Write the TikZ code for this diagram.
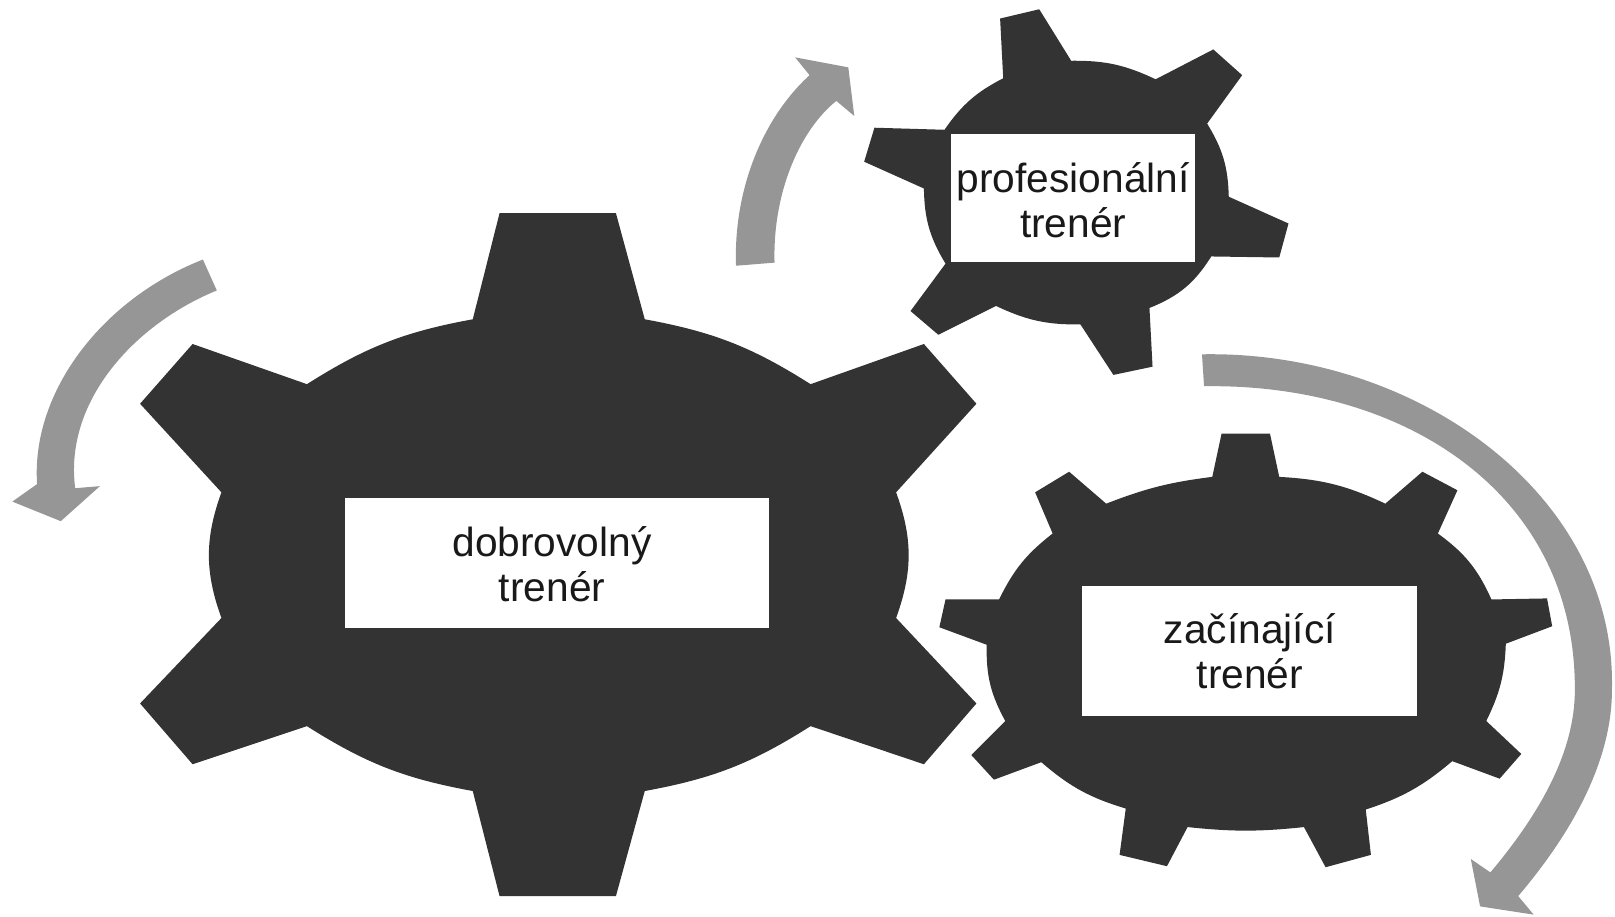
\documentclass[tikz,border=0pt]{standalone}
\usepackage{fontspec}
\setmainfont{Liberation Sans}
\definecolor{geardark}{HTML}{333333}
\definecolor{arrowgrey}{HTML}{969696}
\tikzset{
  gearbody/.style={fill=geardark, draw=none},
  turnarrow/.style={fill=arrowgrey, draw=none},
  whitebox/.style={draw=geardark, line width=1pt, fill=white, inner sep=0pt, rectangle},
  lbl/.style={align=center, inner sep=0pt, text=black!90, font=\fontsize{39.5}{44}\selectfont}
}
\begin{document}
\begin{tikzpicture}[x=1pt,y=-1pt]
\useasboundingbox (0,0) rectangle (1568,890);

% --- large gear
\fill[gearbody] (485,207) -- (598,207) -- (626,310) to[bend left=11] (787,373)
  -- (897,334) -- (948,392) -- (870,478) to[bend left=20] (870,600)
  -- (948,683) -- (897,742) -- (787,705) to[bend left=11] (626,768)
  -- (598,870) -- (485,870) -- (459,768) to[bend left=11] (298,705)
  -- (187,742) -- (136,683) -- (215,600) to[bend left=20] (215,478)
  -- (136,392) -- (187,334) -- (298,373) to[bend left=11] (459,310) -- cycle;

% --- top gear
\fill[gearbody] (974,76) -- (971,18) -- (1009,9) -- (1040,59) to[bend left=13] (1122,77)
  -- (1178,48) -- (1206,73) -- (1172,120) to[bend left=15] (1193,191)
  -- (1251,217) -- (1242,250) -- (1176,249) to[bend left=18] (1116,299)
  -- (1119,356) -- (1081,364) -- (1049,315) to[bend left=13] (967,297)
  -- (911,325) -- (884,302) -- (918,256) to[bend left=15] (897,183)
  -- (839,157) -- (849,124) -- (917,126) to[bend left=14] (974,76) -- cycle;

% --- lower-right gear
\fill[gearbody] (1177,463) -- (1186,421) -- (1233,421) -- (1242,463) to[bend left=11] (1345,489)
  -- (1381,458) -- (1415,476) -- (1396,518) to[bend left=15] (1448,582)
  -- (1502,581) -- (1507,608) -- (1462,625) to[bend left=12] (1443,700)
  -- (1477,732) -- (1456,756) -- (1410,739) to[bend left=11] (1326,786)
  -- (1331,830) -- (1287,842) -- (1266,803) to[bend left=6] (1153,803)
  -- (1133,841) -- (1087,830) -- (1093,785) to[bend left=12] (1011,740)
  -- (965,757) -- (943,733) -- (976,700) to[bend left=15] (958,626)
  -- (912,609) -- (918,582) -- (970,582) to[bend left=13] (1022,518)
  -- (1005,478) -- (1038,458) -- (1074,489) to[bend left=7] (1177,463) -- cycle;

% --- white boxes
\node[whitebox, minimum width=413pt, minimum height=127.5pt] (boxa) at (540.5,546.5) {};
\node[whitebox, minimum width=238pt, minimum height=125.5pt] (boxb) at (1042,192) {};
\node[whitebox, minimum width=326pt, minimum height=128pt] (boxc) at (1213,632) {};

% --- labels
\node[lbl] (laba) at (536,548) {dobrovolný\\trenér};
\node[lbl] (labb) at (1042,194.5) {profesionální\\trenér};
\node[lbl] (labc) at (1213.5,632) {začínající\\trenér};

% --- left arrow
\fill[turnarrow] (197,252) .. controls (100,290) and (30,380) .. (36,470)
  -- (12,487) -- (59,506) -- (97,472) -- (73,474)
  .. controls (62,390) and (130,315) .. (210.5,282) -- cycle;

% --- top arrow
\fill[turnarrow] (714.6,258) .. controls (712,185) and (740,115) .. (786,73)
  -- (772,55.7) -- (823.6,65.4) -- (829.4,112.6) -- (812,98)
  .. controls (778,125) and (750,185) .. (752,255) -- cycle;

% --- right arrow
\fill[turnarrow] (1167,344) .. controls (1375,340) and (1570,480) .. (1565,670)
  .. controls (1565,740) and (1525,810) .. (1474,870)
  -- (1489,888) -- (1437,880) -- (1428,834) -- (1447,847)
  .. controls (1495,790) and (1529,730) .. (1529,670)
  .. controls (1530,480) and (1365,372) .. (1169,375) -- cycle;
\end{tikzpicture}
\end{document}
